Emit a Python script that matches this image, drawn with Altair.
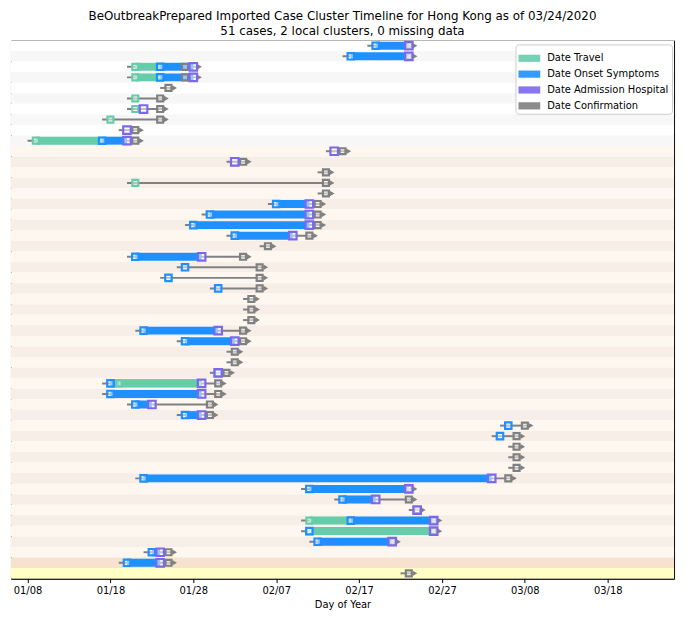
import pandas as pd
import altair as alt

# ---- data (MM/DD, 2020) ----
rows = list(range(51))
travel = [None, None, "01/21", "01/21", None, "01/21", "01/21", "01/18", None, "01/09",
          None, None, None, "01/21", None, None, None, None, None, None,
          None, None, None, None, None, None, None, None, None, None,
          None, None, "01/19", None, None, None, None, None, None, None,
          None, None, None, None, None, "02/11", "02/11", None, None, None,
          None]
travel_end = [None, None, "01/24", "01/24", None, None, None, None, None, "01/17",
              None, None, None, None, None, None, None, None, None, None,
              None, None, None, None, None, None, None, None, None, None,
              None, None, "01/29", None, None, None, None, None, None, None,
              None, None, None, None, None, "02/16", "02/26", None, None, None,
              None]
onset = ["02/19", "02/16", "01/24", "01/24", None, None, None, None, None, "01/17",
         None, None, None, None, None, "02/07", "01/30", "01/28", "02/02", None,
         "01/21", "01/27", "01/25", "01/31", None, None, None, "01/22", "01/27", None,
         None, "01/31", "01/18", "01/18", "01/21", "01/27", "03/06", "03/05", None, None,
         None, "01/22", "02/11", "02/15", None, "02/16", "02/11", "02/12", "01/23", "01/20",
         None]
admission = ["02/23", "02/23", "01/28", "01/28", None, None, "01/22", None, "01/20", "01/20",
             "02/14", "02/02", None, None, None, "02/11", "02/11", "02/11", "02/09", None,
             "01/29", None, None, None, None, None, None, "01/31", "02/02", None,
             None, "01/31", "01/29", "01/29", "01/23", "01/29", None, None, None, None,
             None, "03/04", "02/23", "02/19", "02/24", "02/26", "02/26", "02/21", "01/24", "01/24",
             None]
confirmation = ["02/23", "02/23", "01/27", "01/27", "01/25", "01/24", "01/24", "01/24", "01/21", "01/21",
                "02/15", "02/03", "02/13", "02/13", "02/13", "02/12", "02/12", "02/12", "02/11", "02/06",
                "02/03", "02/05", "02/05", "02/05", "02/04", "02/04", "02/04", "02/03", "02/03", "02/02",
                "02/02", "02/01", "01/31", "01/31", "01/30", "01/30", "03/08", "03/07", "03/07", "03/07",
                "03/07", "03/06", "02/23", "02/23", "02/24", "02/26", "02/26", "02/21", "01/25", "01/25",
                "02/23"]
band_colors = (["#ffffff", "#f7f7f7"] * 5
               + ["#fdf7f0", "#f7efe7"] * 19 + ["#fdf7f0"]
               + ["#f6e2cf", "#ffffc6"])

types = ["Date Travel", "Date Onset Symptoms", "Date Admission Hospital", "Date Confirmation"]
type_colors = ["#66CDAA", "#1E90FF", "#7B68EE", "#808080"]

W, H = 669, 543
x_domain = ["2020-01-06T00:00:00Z", "2020-03-26T00:00:00Z"]
tick_dates = ["01/08", "01/18", "01/28", "02/07", "02/17", "02/27", "03/08", "03/18"]


def ts(s):
    return pd.Timestamp(f"2020-{s[:2]}-{s[3:]}T00:00:00")


def iso(t):
    return t.strftime("%Y-%m-%dT%H:%M:%SZ")


tick_vals = [int((ts(s) - pd.Timestamp("1970-01-01")).total_seconds() * 1000) for s in tick_dates]

# ---- tables ----
bg_df = pd.DataFrame({"row": rows, "bg": band_colors})

line_recs, blue_recs, green_recs = [], [], []
mark_tables = {t: [] for t in types}
for i in rows:
    ds = [ts(v) for v in (travel[i], onset[i], admission[i], confirmation[i]) if v]
    lo, hi = min(ds), max(ds)
    line_recs.append({"row": i, "a": iso(lo - pd.Timedelta(days=1.0)),
                      "b": iso(hi + pd.Timedelta(days=0.6)),
                      "tip": iso(hi + pd.Timedelta(days=0.75))})
    if onset[i] and admission[i]:
        blue_recs.append({"row": i, "a": iso(ts(onset[i])), "b": iso(ts(admission[i]))})
    if travel[i] and travel_end[i]:
        green_recs.append({"row": i, "a": iso(ts(travel[i])), "b": iso(ts(travel_end[i]))})
    for t, arr in zip(types, (travel, onset, admission, confirmation)):
        if arr[i]:
            mark_tables[t].append({"row": i, "date": iso(ts(arr[i]))})

line_df = pd.DataFrame(line_recs)
blue_df = pd.DataFrame(blue_recs)
green_df = pd.DataFrame(green_recs)
legend_df = pd.DataFrame({"type": types, "date": [iso(ts("02/01"))] * 4, "row": [0] * 4})

yenc = alt.Y("row:O", axis=None,
             scale=alt.Scale(domain=rows, paddingInner=0, paddingOuter=0))


def xenc(field, title="Day of Year"):
    return alt.X(field, type="temporal", title=title,
                 scale=alt.Scale(type="utc", domain=x_domain),
                 axis=alt.Axis(values=tick_vals,
                               labelExpr="utcFormat(datum.value, '%m/%d')",
                               grid=False, labelFontSize=10, titleFontSize=10,
                               titleFontWeight="normal", labelColor="black",
                               titleColor="black", tickColor="black", domainColor="black",
                               tickSize=4, labelPadding=3, titlePadding=4,
                               labelFont="DejaVu Sans", titleFont="DejaVu Sans"))


bg = alt.Chart(bg_df).mark_rect().encode(
    y=yenc, x=alt.value(0), x2=alt.value(W),
    fill=alt.Fill("bg:N", scale=None))

lines = alt.Chart(line_df).mark_rule(color="#808080", strokeWidth=2).encode(
    x=xenc("a"), x2="b", y=yenc)

arrows = alt.Chart(line_df).mark_point(shape="triangle-right", filled=True, size=30,
                                       color="#808080", opacity=1).encode(
    x=xenc("tip"), y=yenc)

blue = alt.Chart(blue_df).mark_bar(size=8, color="#1E90FF").encode(
    x=xenc("a"), x2="b", y=yenc)

green = alt.Chart(green_df).mark_bar(size=8, color="#66CDAA").encode(
    x=xenc("a"), x2="b", y=yenc)

sizes = {types[0]: 36, types[1]: 42, types[2]: 58, types[3]: 36}
marker_layers = []
for t, c in zip([types[0], types[1], types[3], types[2]],
                [type_colors[0], type_colors[1], type_colors[3], type_colors[2]]):
    marker_layers.append(
        alt.Chart(pd.DataFrame(mark_tables[t])).mark_point(
            shape="square", filled=False, strokeWidth=2.2, opacity=1,
            fill="white", fillOpacity=0.5, stroke=c,
            size=sizes[t]).encode(x=xenc("date"), y=yenc))

legend = alt.Chart(legend_df).mark_point(filled=True, opacity=0).encode(
    x=xenc("date"), y=yenc,
    color=alt.Color("type:N", scale=alt.Scale(domain=types, range=type_colors),
                    legend=alt.Legend(title=None, orient="none", legendX=509, legendY=4,
                                      symbolType="M-1,-0.33H1V0.33H-1Z", symbolSize=484,
                                      symbolOpacity=0.9, symbolStrokeWidth=0,
                                      labelFontSize=10, labelFont="DejaVu Sans",
                                      labelColor="black", labelOffset=7,
                                      fillColor="white", strokeColor="#cccccc",
                                      cornerRadius=3, padding=3, rowPadding=-2)))

chart = alt.layer(bg, lines, arrows, blue, green, *marker_layers, legend).properties(
    width=W, height=H,
    title=alt.TitleParams(
        ["BeOutbreakPrepared Imported Case Cluster Timeline for Hong Kong as of 03/24/2020",
         "51 cases, 2 local clusters, 0 missing data"],
        fontSize=12, fontWeight="normal", font="DejaVu Sans", color="black",
        anchor="middle", lineHeight=15, offset=0),
    autosize=alt.AutoSizeParams(type="none"),
    padding={"left": 3, "top": 30, "right": 5, "bottom": 37},
).configure_view(stroke="black", strokeWidth=1)

chart.save("out.html", embed_options={"renderer": "svg", "actions": False})
